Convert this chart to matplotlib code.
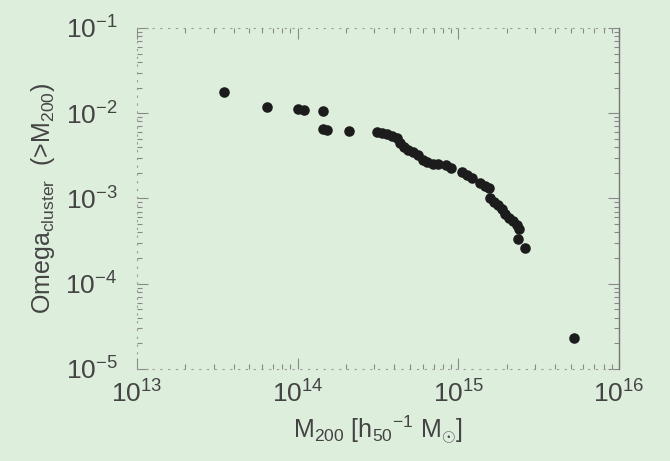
import numpy as np
import matplotlib
matplotlib.use("Agg")
import matplotlib.pyplot as plt
from matplotlib.ticker import LogLocator, FixedLocator, NullFormatter

# cumulative cluster mass density vs cluster mass
m200 = [3.49e13, 6.46e13, 1.01e14, 1.10e14, 1.43e14, 1.43e14, 1.53e14, 2.08e14,
        3.10e14, 3.34e14, 3.58e14, 3.85e14, 4.13e14, 4.31e14, 4.57e14, 4.84e14,
        5.20e14, 5.59e14, 6.00e14, 6.36e14, 6.92e14, 7.43e14, 8.34e14, 8.96e14,
        1.06e15, 1.13e15, 1.21e15, 1.36e15, 1.46e15, 1.54e15, 1.57e15, 1.66e15,
        1.76e15, 1.86e15, 1.94e15, 2.06e15, 2.18e15, 2.31e15, 2.37e15, 2.36e15,
        2.61e15, 5.21e15]
omega = [1.79e-2, 1.17e-2, 1.11e-2, 1.08e-2, 1.05e-2, 6.53e-3, 6.44e-3, 6.24e-3,
         6.02e-3, 5.93e-3, 5.70e-3, 5.40e-3, 5.11e-3, 4.47e-3, 4.01e-3, 3.70e-3,
         3.51e-3, 3.23e-3, 2.82e-3, 2.67e-3, 2.57e-3, 2.53e-3, 2.47e-3, 2.27e-3,
         2.04e-3, 1.88e-3, 1.74e-3, 1.52e-3, 1.40e-3, 1.33e-3, 1.01e-3, 9.08e-4,
         8.37e-4, 7.52e-4, 6.56e-4, 5.89e-4, 5.43e-4, 4.88e-4, 4.38e-4, 3.34e-4,
         2.59e-4, 2.34e-5]

xticks = [1e13, 1e14, 1e15, 1e16]
xticklabels = [r"$10^{13}$", r"$10^{14}$", r"$10^{15}$", r"$10^{16}$"]
yticks = [1e-5, 1e-4, 1e-3, 1e-2, 1e-1]
yticklabels = [r"$10^{-5}$", r"$10^{-4}$", r"$10^{-3}$", r"$10^{-2}$", r"$10^{-1}$"]

bg = "#deeedd"
txt = "#444444"

plt.rcParams["font.family"] = ["Liberation Sans", "DejaVu Sans"]
plt.rcParams["mathtext.fontset"] = "custom"
plt.rcParams["mathtext.rm"] = "Liberation Sans"
plt.rcParams["mathtext.it"] = "Liberation Sans"

fig = plt.figure(figsize=(6.70, 4.61), dpi=100, facecolor=bg)
ax = fig.add_axes([0.2045, 0.1996, 0.7195, 0.7397], facecolor=bg)

ax.plot(m200, omega, "o", color="#1c1c1c", markersize=7.6, markeredgewidth=0)

ax.set_xscale("log")
ax.set_yscale("log")
ax.set_xlim(1e13, 1e16)
ax.set_ylim(1e-5, 1e-1)

ax.xaxis.set_major_locator(FixedLocator(xticks))
ax.yaxis.set_major_locator(FixedLocator(yticks))
ax.set_xticklabels(xticklabels)
ax.set_yticklabels(yticklabels)
ax.xaxis.set_minor_locator(LogLocator(base=10, subs=np.arange(2, 10)))
ax.yaxis.set_minor_locator(LogLocator(base=10, subs=np.arange(2, 10)))
ax.xaxis.set_minor_formatter(NullFormatter())
ax.yaxis.set_minor_formatter(NullFormatter())

ax.tick_params(which="both", direction="in", top=True, right=True,
               color="#888888", width=0.8)
ax.tick_params(which="major", length=8, labelsize=19, labelcolor=txt)
ax.tick_params(which="minor", length=3.5)
ax.tick_params(axis="x", which="major", pad=8)
ax.tick_params(axis="y", which="major", pad=14)

for side in ["left", "top", "bottom"]:
    ax.spines[side].set_linestyle((0, (1, 6)))
    ax.spines[side].set_color("#999999")
    ax.spines[side].set_linewidth(0.8)
ax.spines["right"].set_color("#777777")
ax.spines["right"].set_linewidth(1.0)

ax.set_xlabel(r"M$_{200}$ [h$_{50}$$^{-1}$ M$_{\odot}$]", fontsize=18,
              color=txt, labelpad=4)
ax.set_ylabel(r"Omega$_{\rm cluster}$  (>M$_{200}$)", fontsize=18,
              color=txt, labelpad=6)

fig.savefig("out.png", dpi=100, facecolor=bg)
